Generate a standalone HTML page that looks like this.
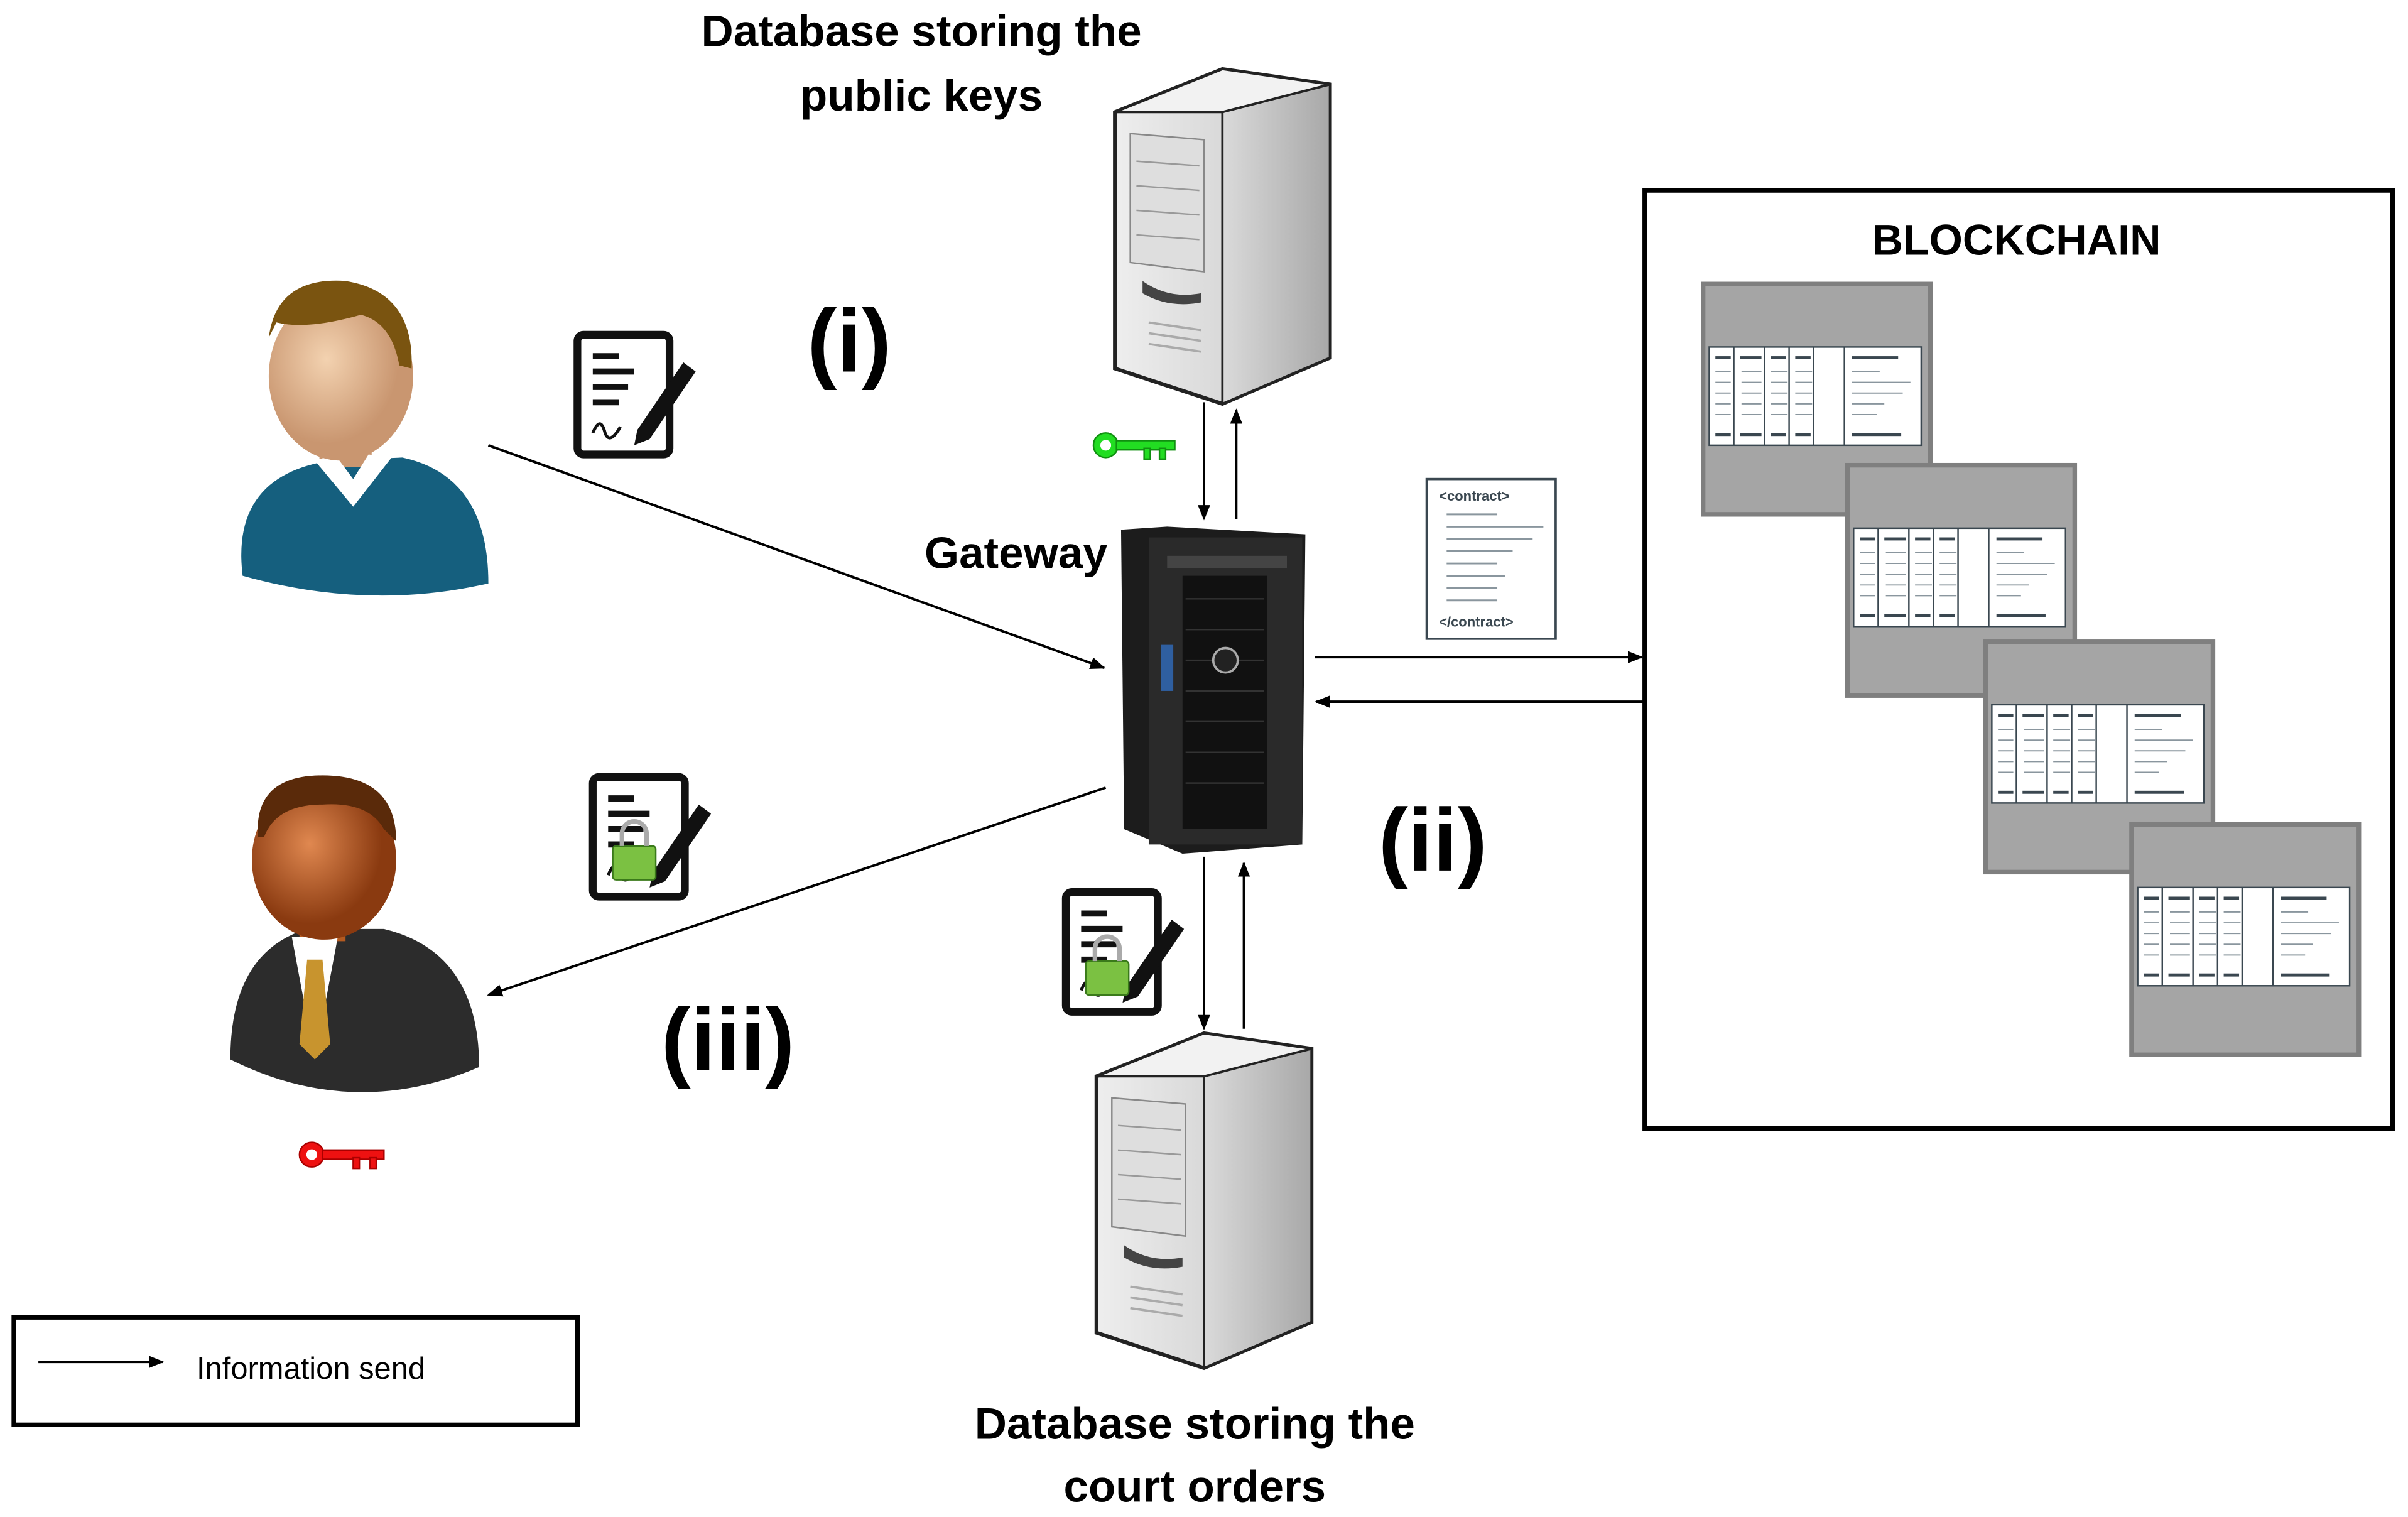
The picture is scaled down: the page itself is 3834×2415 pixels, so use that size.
<!DOCTYPE html>
<html><head><meta charset="utf-8"><style>
html,body{margin:0;padding:0;background:#fff;}
svg{display:block;}
text{font-family:"Liberation Sans",sans-serif;}
</style></head><body>
<svg width="3834" height="2415" viewBox="0 0 1568 988" preserveAspectRatio="none" xmlns="http://www.w3.org/2000/svg">
<defs>
<marker id="ah" markerWidth="10" markerHeight="8" refX="9" refY="4" orient="auto" markerUnits="userSpaceOnUse">
<path d="M0,0 L10,4 L0,8 z" fill="#000"/></marker>
<linearGradient id="srv" x1="0" x2="1"><stop offset="0" stop-color="#eeeeee"/><stop offset="1" stop-color="#c4c4c4"/></linearGradient>
<linearGradient id="srvs" x1="0" x2="1"><stop offset="0" stop-color="#dadada"/><stop offset="1" stop-color="#a8a8a8"/></linearGradient>
<radialGradient id="face1" cx="0.4" cy="0.4"><stop offset="0" stop-color="#f3d2b0"/><stop offset="1" stop-color="#c99670"/></radialGradient>
<radialGradient id="face2" cx="0.4" cy="0.4"><stop offset="0" stop-color="#e08850"/><stop offset="1" stop-color="#8a3a10"/></radialGradient>
<g id="blk">
<rect x="0" y="0" width="148" height="150" fill="#a5a5a5" stroke="#7f7f7f" stroke-width="3"/>
<rect x="4" y="41" width="138" height="64" fill="#fff" stroke="#3a4750" stroke-width="1"/>
<g stroke="#3a4750" stroke-width="1"><line x1="20" y1="41" x2="20" y2="105"/><line x1="40" y1="41" x2="40" y2="105"/><line x1="56" y1="41" x2="56" y2="105"/><line x1="72" y1="41" x2="72" y2="105"/><line x1="92" y1="41" x2="92" y2="105"/></g>
<g stroke="#8a969e" stroke-width="0.8">
<line x1="8" y1="57" x2="18" y2="57"/><line x1="8" y1="64" x2="18" y2="64"/><line x1="8" y1="71" x2="18" y2="71"/><line x1="8" y1="78" x2="18" y2="78"/><line x1="8" y1="85" x2="18" y2="85"/>
<line x1="25" y1="57" x2="38" y2="57"/><line x1="25" y1="64" x2="38" y2="64"/><line x1="25" y1="71" x2="38" y2="71"/><line x1="25" y1="78" x2="38" y2="78"/><line x1="25" y1="85" x2="38" y2="85"/>
<line x1="44" y1="57" x2="55" y2="57"/><line x1="44" y1="64" x2="55" y2="64"/><line x1="44" y1="71" x2="55" y2="71"/><line x1="44" y1="78" x2="55" y2="78"/><line x1="44" y1="85" x2="55" y2="85"/>
<line x1="60" y1="57" x2="71" y2="57"/><line x1="60" y1="64" x2="71" y2="64"/><line x1="60" y1="71" x2="71" y2="71"/><line x1="60" y1="78" x2="71" y2="78"/><line x1="60" y1="85" x2="71" y2="85"/>
<line x1="97" y1="57" x2="115" y2="57"/><line x1="97" y1="64" x2="135" y2="64"/><line x1="97" y1="71" x2="130" y2="71"/><line x1="97" y1="78" x2="118" y2="78"/><line x1="97" y1="85" x2="113" y2="85"/>
</g>
<g fill="#3a4750"><rect x="8" y="47" width="10" height="2"/><rect x="24" y="47" width="14" height="2"/><rect x="44" y="47" width="10" height="2"/><rect x="60" y="47" width="10" height="2"/><rect x="97" y="47" width="30" height="2"/>
<rect x="8" y="97" width="10" height="2"/><rect x="24" y="97" width="14" height="2"/><rect x="44" y="97" width="10" height="2"/><rect x="60" y="97" width="10" height="2"/><rect x="97" y="97" width="32" height="2"/></g>
</g>
<g id="server">
<polygon points="0,28 70,0 140,10 140,188 70,218 0,195" fill="url(#srv)" stroke="#222" stroke-width="2.5"/>
<polygon points="70,28 140,10 140,188 70,218" fill="url(#srvs)" stroke="#222" stroke-width="1.5"/>
<polygon points="0,28 70,0 140,10 70,28" fill="#f2f2f2" stroke="#222" stroke-width="1.5"/>
<polygon points="10,42 58,46 58,132 10,126" fill="#dedede" stroke="#888" stroke-width="1"/>
<g stroke="#999" stroke-width="1"><line x1="14" y1="60" x2="55" y2="63"/><line x1="14" y1="76" x2="55" y2="79"/><line x1="14" y1="92" x2="55" y2="95"/><line x1="14" y1="108" x2="55" y2="111"/></g>
<path d="M18,138 Q35,150 56,146 L56,152 Q35,156 18,146z" fill="#444"/>
<g stroke="#aaa" stroke-width="1.5"><line x1="22" y1="165" x2="56" y2="170"/><line x1="22" y1="172" x2="56" y2="177"/><line x1="22" y1="179" x2="56" y2="184"/></g>
</g>
<g id="doc">
<rect x="3" y="6" width="60" height="78" rx="4" fill="#fff" stroke="#111" stroke-width="5"/>
<g stroke="#111" stroke-width="4"><line x1="13" y1="20" x2="30" y2="20"/><line x1="13" y1="30" x2="40" y2="30"/><line x1="13" y1="40" x2="36" y2="40"/><line x1="13" y1="50" x2="30" y2="50"/></g>
<path d="M13,70 q5,-12 8,0 q3,8 10,-4" fill="none" stroke="#111" stroke-width="2"/>
<polygon points="42,68 72,24 80,30 50,74 40,78" fill="#111"/>
</g>
</defs>

<text x="600" y="30" font-size="29" font-weight="bold" text-anchor="middle">Database storing the</text>
<text x="600" y="72" font-size="29" font-weight="bold" text-anchor="middle">public keys</text>
<text x="778" y="937" font-size="29" font-weight="bold" text-anchor="middle">Database storing the</text>
<text x="778" y="978" font-size="29" font-weight="bold" text-anchor="middle">court orders</text>

<use href="#server" x="726" y="45"/>
<use href="#server" x="714" y="673"/>

<g fill="#22dd22" stroke="#109010" stroke-width="1"><circle cx="720" cy="290" r="8"/><rect x="727" y="287" width="38" height="6"/><rect x="745" y="292" width="4" height="7"/><rect x="755" y="292" width="4" height="7"/></g>
<circle cx="720" cy="290" r="3.5" fill="#fff"/>
<g fill="#ee1111" stroke="#a00" stroke-width="1"><circle cx="203" cy="752" r="8"/><rect x="210" y="749" width="40" height="6"/><rect x="230" y="754" width="4" height="7"/><rect x="241" y="754" width="4" height="7"/></g>
<circle cx="203" cy="752" r="3.5" fill="#fff"/>

<text x="602" y="370" font-size="29" font-weight="bold">Gateway</text>
<polygon points="730,345 760,343 850,348 848,550 770,556 732,540" fill="#1c1c1c"/>
<rect x="748" y="350" width="100" height="200" fill="#2a2a2a"/>
<rect x="770" y="375" width="55" height="165" fill="#111"/>
<g stroke="#333" stroke-width="1"><line x1="772" y1="390" x2="823" y2="390"/><line x1="772" y1="410" x2="823" y2="410"/><line x1="772" y1="430" x2="823" y2="430"/><line x1="772" y1="450" x2="823" y2="450"/><line x1="772" y1="470" x2="823" y2="470"/><line x1="772" y1="490" x2="823" y2="490"/><line x1="772" y1="510" x2="823" y2="510"/></g>
<rect x="760" y="362" width="78" height="8" fill="#444"/>
<circle cx="798" cy="430" r="8" fill="#222" stroke="#aaa" stroke-width="1.5"/>
<rect x="756" y="420" width="8" height="30" fill="#2f5fa0"/>

<line x1="784" y1="262" x2="784" y2="338" stroke="#000" stroke-width="1.6" marker-end="url(#ah)"/>
<line x1="805" y1="338" x2="805" y2="267" stroke="#000" stroke-width="1.6" marker-end="url(#ah)"/>
<line x1="784" y1="558" x2="784" y2="670" stroke="#000" stroke-width="1.6" marker-end="url(#ah)"/>
<line x1="810" y1="670" x2="810" y2="562" stroke="#000" stroke-width="1.6" marker-end="url(#ah)"/>

<path d="M158,375 Q150,310 215,300 L262,298 Q318,310 318,380 Q240,398 158,375z" fill="#155f7e"/>
<rect x="208" y="270" width="34" height="34" fill="#c99670"/>
<polygon points="205,300 230,330 255,298 240,296 230,312 218,296" fill="#fff"/>
<ellipse cx="222" cy="245" rx="47" ry="55" fill="url(#face1)"/>
<path d="M175,220 Q180,180 225,183 Q270,190 268,240 L260,238 Q255,210 235,205 Q200,215 180,210z" fill="#7a5410"/>

<path d="M150,690 Q150,620 200,605 L250,605 Q312,620 312,695 Q230,730 150,690z" fill="#2c2c2c"/>
<rect x="195" y="585" width="30" height="28" fill="#b45a20"/>
<polygon points="190,610 205,690 220,610" fill="#fff"/>
<polygon points="200,625 210,625 215,680 205,690 195,680" fill="#c8942e"/>
<ellipse cx="211" cy="560" rx="47" ry="52" fill="url(#face2)"/>
<path d="M168,545 Q165,505 210,505 Q258,505 258,548 L250,540 Q240,522 210,524 Q180,524 172,545z" fill="#5a2a0a"/>

<line x1="318" y1="290" x2="719" y2="435" stroke="#000" stroke-width="1.6" marker-end="url(#ah)"/>
<line x1="720" y1="513" x2="318" y2="648" stroke="#000" stroke-width="1.6" marker-end="url(#ah)"/>

<use href="#doc" x="373" y="212"/>
<use href="#doc" x="383" y="500"/>
<use href="#doc" x="691" y="575"/>
<g><rect x="399" y="551" width="28" height="22" rx="2" fill="#7bc142" stroke="#3a7a1a"/><path d="M405,551 v-8 a8,8 0 0 1 16,0 v8" fill="none" stroke="#aaa" stroke-width="3"/></g>
<g><rect x="707" y="626" width="28" height="22" rx="2" fill="#7bc142" stroke="#3a7a1a"/><path d="M713,626 v-8 a8,8 0 0 1 16,0 v8" fill="none" stroke="#aaa" stroke-width="3"/></g>

<text x="553" y="242" font-size="58" font-weight="bold" text-anchor="middle">(i)</text>
<text x="933" y="567" font-size="58" font-weight="bold" text-anchor="middle">(ii)</text>
<text x="474" y="697" font-size="58" font-weight="bold" text-anchor="middle">(iii)</text>

<rect x="929" y="312" width="84" height="104" fill="#fff" stroke="#3a4750" stroke-width="1.5"/>
<text x="937" y="326" font-size="9" font-weight="bold" fill="#3a4750">&lt;contract&gt;</text>
<g stroke="#8a969e" stroke-width="1.2"><line x1="942" y1="335" x2="975" y2="335"/><line x1="942" y1="343" x2="1005" y2="343"/><line x1="942" y1="351" x2="998" y2="351"/><line x1="942" y1="359" x2="985" y2="359"/><line x1="942" y1="367" x2="975" y2="367"/><line x1="942" y1="375" x2="980" y2="375"/><line x1="942" y1="383" x2="975" y2="383"/><line x1="942" y1="391" x2="975" y2="391"/></g>
<text x="937" y="408" font-size="9" font-weight="bold" fill="#3a4750">&lt;/contract&gt;</text>

<line x1="856" y1="428" x2="1069" y2="428" stroke="#000" stroke-width="1.6" marker-end="url(#ah)"/>
<line x1="1070" y1="457" x2="857" y2="457" stroke="#000" stroke-width="1.6" marker-end="url(#ah)"/>

<rect x="1071" y="124" width="487" height="611" fill="#fff" stroke="#000" stroke-width="3"/>
<text x="1313" y="166" font-size="28" font-weight="bold" text-anchor="middle">BLOCKCHAIN</text>
<use href="#blk" x="1109" y="185"/>
<use href="#blk" x="1203" y="303"/>
<use href="#blk" x="1293" y="418"/>
<use href="#blk" x="1388" y="537"/>

<rect x="9" y="858" width="367" height="70" fill="#fff" stroke="#000" stroke-width="3"/>
<line x1="25" y1="887" x2="106" y2="887" stroke="#000" stroke-width="1.6" marker-end="url(#ah)"/>
<text x="128" y="898" font-size="20">Information send</text>
</svg>
</body></html>
